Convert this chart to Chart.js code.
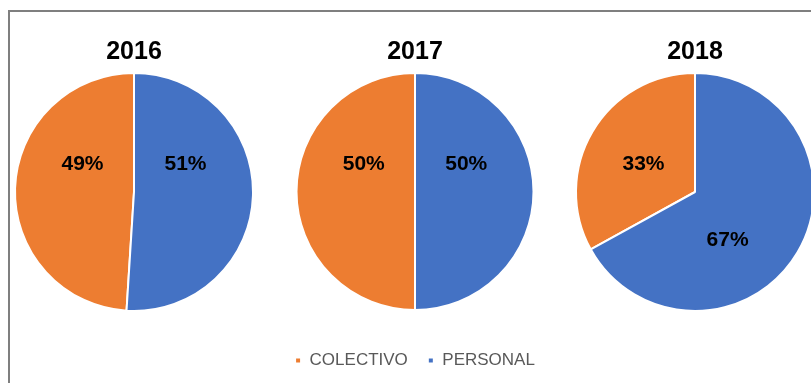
<!DOCTYPE html>
<html>
<head>
<meta charset="utf-8">
<script src="https://cdn.jsdelivr.net/npm/chart.js@4"></script>
<style>
  html, body { margin: 0; padding: 0; background: #fff; }
  body { width: 811px; height: 383px; position: relative; overflow: hidden; }
  #frame { position: absolute; left: 8px; top: 10px; width: 900px; height: 500px;
           border-left: 2px solid #7f7f7f; border-top: 2px solid #7f7f7f; }
  canvas { position: absolute; }
</style>
</head>
<body>
<div id="frame"></div>
<canvas id="c2016" width="260" height="292" style="left:4px;top:20px"></canvas>
<canvas id="c2017" width="320" height="359" style="left:255px;top:20px"></canvas>
<canvas id="c2018" width="260" height="292" style="left:565px;top:20px"></canvas>
<script>
// datos
var categorias = ['COLECTIVO', 'PERSONAL'];
var anios = ['2016', '2017', '2018'];
var colectivo = [49, 50, 33];
var personal = [51, 50, 67];
var colores = ['#ED7D31', '#4472C4'];

// donde va cada etiqueta (grados desde arriba, sentido horario)
var angulosEtiq = [[-62, 62], [-62, 62], [-62, 146]];

const pctLabels = { //etiquetas de porcentaje
	id: 'pctLabels',
	afterDatasetsDraw(chart, args, opts) {
		var ctx = chart.ctx;
		var meta = chart.getDatasetMeta(0);
		var valores = chart.data.datasets[0].data;
		ctx.save();
		ctx.font = 'bold 21px "Liberation Sans", Arial, sans-serif';
		ctx.fillStyle = '#000';
		ctx.textAlign = 'center';
		ctx.textBaseline = 'middle';
		for (var i = 0; i < meta.data.length; i++) {
			var arc = meta.data[i];
			var a = opts.angles[i] * Math.PI / 180;
			var r = arc.outerRadius * opts.dist;
			ctx.fillText(valores[i] + '%', arc.x + r * Math.sin(a), arc.y - r * Math.cos(a));
		}
		ctx.restore();
	}
};

function pieFnc(id, idx, conLeyenda) {
	const ctx = document.getElementById(id).getContext('2d');
	return new Chart(ctx, {
		type: 'pie',
		data: {
			labels: categorias,
			datasets: [{
				data: [colectivo[idx], personal[idx]],
				backgroundColor: colores,
				borderColor: '#fff',
				borderWidth: 2
			}]
		},
		options: {
			responsive: false,
			animation: false,
			rotation: -colectivo[idx] * 3.6,
			layout: { padding: 0 },
			plugins: {
				tooltip: { enabled: false },
				title: {
					display: true,
					text: anios[idx],
					color: '#000',
					font: { family: '"Liberation Sans", Arial, sans-serif', size: 25, weight: 'bold' },
					padding: { top: 17, bottom: 5 }
				},
				legend: {
					display: conLeyenda,
					position: 'bottom',
					title: {
						display: true,
						text: '',
						font: { size: 1, lineHeight: 1 },
						padding: { top: 0, bottom: 20 }
					},
					labels: {
						boxWidth: 6,
						boxHeight: 6,
						padding: 20,
						color: '#595959',
						font: { family: '"Liberation Sans", Arial, sans-serif', size: 17 }
					}
				},
				pctLabels: { angles: angulosEtiq[idx], dist: 0.49 }
			}
		},
		plugins: [pctLabels]
	});
}

pieFnc('c2016', 0, false);
pieFnc('c2017', 1, true);
pieFnc('c2018', 2, false);
</script>
</body>
</html>
